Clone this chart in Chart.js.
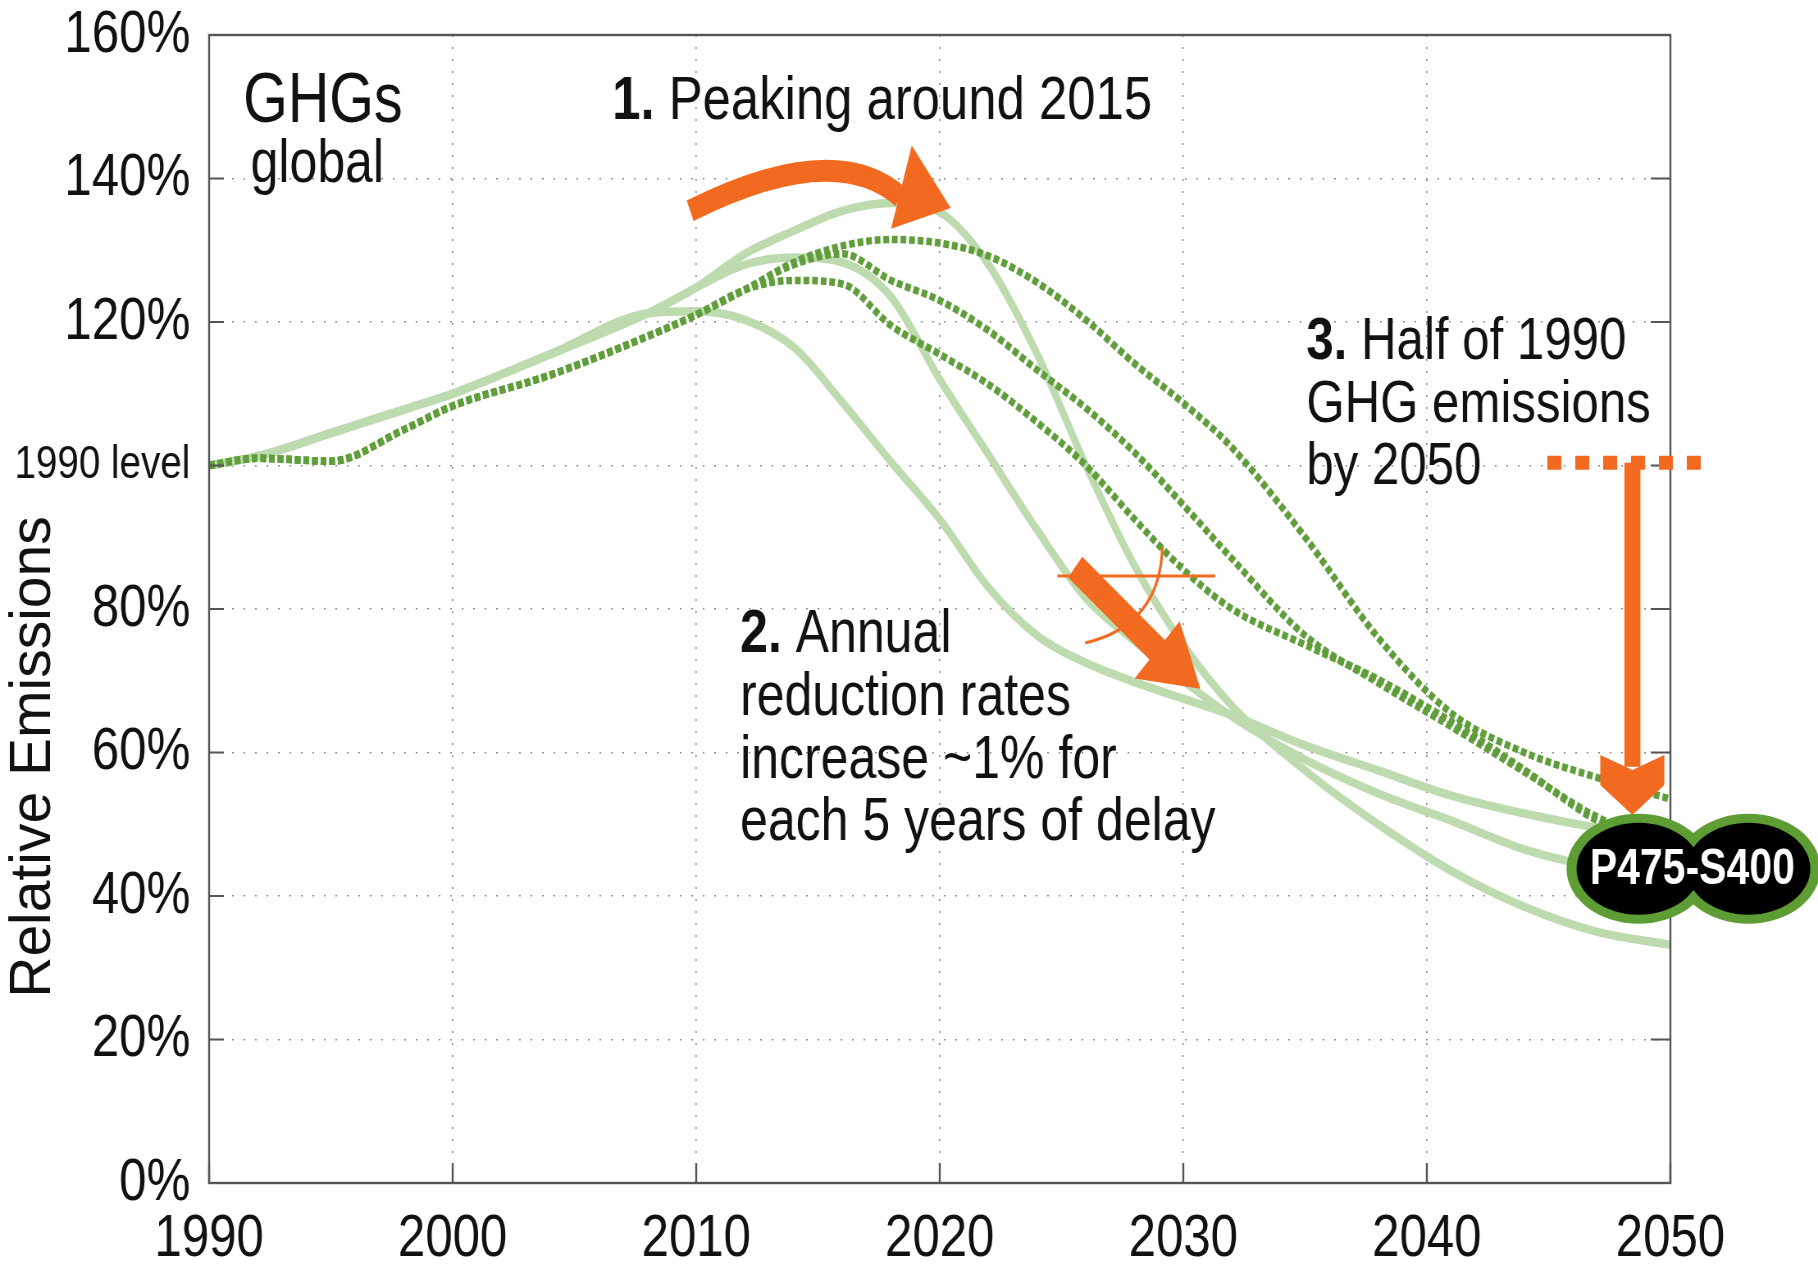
<!DOCTYPE html>
<html>
<head>
<meta charset="utf-8">
<title>GHGs global - relative emissions</title>
<script src="https://cdn.jsdelivr.net/npm/chart.js@4.4.1/dist/chart.umd.min.js"></script>
<style>
  html, body { margin: 0; padding: 0; background: #fff; overflow: hidden; }
  #box { width: 1818px; height: 1264px; }
</style>
</head>
<body>
<div id="box"><canvas id="myChart" height="1264"></canvas></div>
<script>
// sampled years (x axis)
var years = [1990, 1992, 1995, 1998, 2000, 2004, 2008, 2010, 2012, 2014, 2016, 2018, 2020,
             2022, 2024, 2026, 2028, 2030, 2032, 2035, 2038, 2041, 2044, 2047, 2050];

// light solid pathways, % of 1990 emissions
var solidPeak2011 = [100, 101.3, 104.5, 107.8, 110, 115.5, 121.2, 121.5, 120.3, 116.5, 108.8, 100.5, 92.5,
                     83, 76.3, 72.5, 69.8, 67.5, 65.2, 61, 57.5, 54, 51.5, 49.5, 48];
var solidPeak2015 = [100, 101.3, 104.5, 107.8, 110, 115.5, 121.2, 124.8, 128, 129, 128.3, 123.5, 112,
                     101.5, 91, 81.5, 75.5, 70, 65, 59, 54.3, 50.5, 46.5, 44, 42.5];
var solidPeak2019 = [100, 101.3, 104.5, 107.8, 110, 115.5, 121.2, 124.8, 129.5, 132.7, 135.5, 136.6, 135.3,
                     128, 115.5, 100, 86, 75, 66.5, 57.5, 50, 43.5, 38.5, 35, 33.2];

// dotted pathways
var dottedPeak2014 = [100, 101, 100.6, 105, 108.3, 112.6, 118, 121, 124.5, 125.8, 125.3, 119.5, 115.5,
                      111.3, 106, 100, 92.5, 85.5, 80, 75, 70.2, 64.3, 57.6, 50.5, 47];
var dottedPeak2016 = [100, 101, 100.6, 105, 108.3, 112.6, 118, 121, 124.5, 128, 129.5, 125.8, 123,
                      118.8, 113.3, 108, 101.8, 94.5, 87, 76.3, 69.7, 63.6, 57.3, 51, 47];
var dottedPeak2019 = [100, 101, 100.6, 105, 108.3, 112.6, 118, 121, 124.5, 128.3, 130.6, 131.5, 131,
                      129.2, 125.5, 120.3, 114.2, 108.7, 102.5, 90, 76, 65.5, 60, 56.5, 53.5];

var xTicks = [1990, 2000, 2010, 2020, 2030, 2040, 2050];
var yTicks = [0, 20, 40, 60, 80, 100, 120, 140, 160];
var yTickLabels = ['0%', '20%', '40%', '60%', '80%', '1990 level', '120%', '140%', '160%'];

// the figure is drawn wide and squeezed to 1818px, like the narrow original
var K = 0.82;
var W = Math.round(1818 / K);

var lightGreen = '#bedaaf';
var darkGreen = '#5f9e3a';
var orange = '#f26a1f';
var sans = '"Liberation Sans", Arial, sans-serif';

// text notes, anchored in data units (year, %)
var notes = [
  { t: 'GHGs', x: 1991.4, y: 147.9, size: 70 },
  { t: 'global', x: 1991.7, y: 139.5, size: 61 },
  { b: '1.', t: ' Peaking around 2015', x: 2006.55, y: 148.3, size: 62 },
  { b: '2.', t: ' Annual', x: 2011.8, y: 74.0, size: 61 },
  { t: 'reduction rates', x: 2011.8, y: 65.2, size: 61 },
  { t: 'increase ~1% for', x: 2011.8, y: 56.45, size: 61 },
  { t: 'each 5 years of delay', x: 2011.8, y: 47.8, size: 61 },
  { b: '3.', t: ' Half of 1990', x: 2035.05, y: 114.85, size: 60 },
  { t: 'GHG emissions', x: 2035.05, y: 106.05, size: 60 },
  { t: 'by 2050', x: 2035.05, y: 97.4, size: 60 }
];

function pts(vals) {
  return years.map(function (yr, i) { return { x: yr, y: vals[i] }; });
}

function solid(vals) {
  return { data: pts(vals), borderColor: lightGreen, borderWidth: 8.5, order: 1 };
}
function dotted(vals) {
  return { data: pts(vals), borderColor: darkGreen, borderWidth: 7.5, borderDash: [7, 3.5], order: 0 };
}

var overlay = {
  id: 'overlay',
  afterDraw: function (chart) {
    var ctx = chart.ctx, a = chart.chartArea;
    var xs = chart.scales.x, ys = chart.scales.y;
    function px(v) { return xs.getPixelForValue(v); }
    function py(v) { return ys.getPixelForValue(v); }
    function poly(list) {
      ctx.beginPath();
      list.forEach(function (p, i) {
        if (i === 0) ctx.moveTo(px(p[0]), py(p[1])); else ctx.lineTo(px(p[0]), py(p[1]));
      });
      ctx.closePath();
      ctx.fill();
    }

    ctx.save();

    // frame and inward ticks
    ctx.strokeStyle = '#555';
    ctx.lineWidth = 2.4;
    ctx.strokeRect(a.left, a.top, a.right - a.left, a.bottom - a.top);
    ctx.lineWidth = 2;
    ctx.beginPath();
    yTicks.forEach(function (v) {
      ctx.moveTo(a.left, py(v)); ctx.lineTo(a.left + 18, py(v));
      ctx.moveTo(a.right, py(v)); ctx.lineTo(a.right - 24, py(v));
    });
    ctx.stroke();
    ctx.lineWidth = 2.4;
    ctx.beginPath();
    xTicks.forEach(function (v) {
      ctx.moveTo(px(v), a.bottom); ctx.lineTo(px(v), a.bottom - 20);
    });
    ctx.stroke();

    // axis title (rotated, so undo the squeeze on the glyph height)
    ctx.save();
    ctx.translate(34 / K, 757);
    ctx.rotate(-Math.PI / 2);
    ctx.scale(1, 1 / K);
    ctx.fillStyle = '#111';
    ctx.font = '57px ' + sans;
    ctx.textAlign = 'center';
    ctx.textBaseline = 'middle';
    ctx.fillText('Relative Emissions', 0, 0);
    ctx.restore();

    // 1. curved arrow over the peak
    ctx.strokeStyle = orange;
    ctx.fillStyle = orange;
    ctx.lineWidth = 22;
    ctx.lineCap = 'butt';
    ctx.beginPath();
    ctx.moveTo(px(2009.75), py(135.5));
    ctx.quadraticCurveTo(px(2015.7), py(145.6), px(2018.4), py(137.4));
    ctx.stroke();
    poly([[2018.85, 144.6], [2020.45, 135.9], [2018.0, 133.0]]);

    // 2. diagonal arrow, with angle mark
    ctx.lineWidth = 27;
    ctx.beginPath();
    ctx.moveTo(px(2025.56), py(85.85));
    ctx.lineTo(px(2028.97), py(74.15));
    ctx.stroke();
    poly([[2029.85, 78.3], [2030.7, 68.9], [2028.0, 70.3]]);
    ctx.lineWidth = 3.2;
    ctx.beginPath();
    ctx.moveTo(px(2024.83), py(84.6));
    ctx.lineTo(px(2031.31), py(84.6));
    ctx.moveTo(px(2025.97), py(75.26));
    ctx.quadraticCurveTo(px(2029.05), py(77.77), px(2029.14), py(88.64));
    ctx.stroke();

    // 3. 1990-level marker and down arrow
    ctx.lineWidth = 14;
    ctx.setLineDash([17, 17]);
    ctx.beginPath();
    ctx.moveTo(px(2044.95), py(100.4));
    ctx.lineTo(px(2051.31), py(100.4));
    ctx.stroke();
    ctx.setLineDash([]);
    ctx.lineWidth = 16 / K;
    ctx.beginPath();
    ctx.moveTo(px(2048.44), py(100.4));
    ctx.lineTo(px(2048.44), py(58));
    ctx.stroke();
    poly([[2047.12, 59.65], [2048.44, 57.56], [2049.75, 59.65], [2049.75, 55.47], [2048.44, 51.29], [2047.12, 55.47]]);

    // scenario badge: two joined lobes
    var cy = py(43.8), c1 = px(2048.69), c2 = px(2053.2);
    ctx.fillStyle = '#5e9c34';
    ctx.beginPath();
    ctx.ellipse(c1, cy, 72 / K, 55, 0, 0, Math.PI * 2);
    ctx.ellipse(c2, cy, 72 / K, 55, 0, 0, Math.PI * 2);
    ctx.fill();
    ctx.fillStyle = '#000';
    ctx.beginPath();
    ctx.ellipse(c1, cy, 62 / K, 46, 0, 0, Math.PI * 2);
    ctx.fill();
    ctx.beginPath();
    ctx.ellipse(c2, cy, 62 / K, 46, 0, 0, Math.PI * 2);
    ctx.fill();
    ctx.fillStyle = '#fff';
    ctx.font = 'bold 50px ' + sans;
    ctx.textAlign = 'center';
    ctx.textBaseline = 'middle';
    ctx.fillText('P475-S400', px(2050.9), cy + 1);

    // notes
    ctx.fillStyle = '#111';
    ctx.textAlign = 'left';
    ctx.textBaseline = 'alphabetic';
    notes.forEach(function (n) {
      var x = px(n.x), y = py(n.y);
      if (n.b) {
        ctx.font = 'bold ' + n.size + 'px ' + sans;
        ctx.fillText(n.b, x, y);
        x += ctx.measureText(n.b).width;
      }
      ctx.font = n.size + 'px ' + sans;
      ctx.fillText(n.t, x, y);
    });

    ctx.restore();
  }
};

var canvas = document.getElementById('myChart');
canvas.width = W;
canvas.style.width = '1818px';
canvas.style.height = '1264px';

var chart = new Chart(canvas.getContext('2d'), {
  type: 'line',
  data: {
    datasets: [
      dotted(dottedPeak2019), dotted(dottedPeak2016), dotted(dottedPeak2014),
      solid(solidPeak2011), solid(solidPeak2015), solid(solidPeak2019)
    ]
  },
  options: {
    responsive: false,
    animation: false,
    devicePixelRatio: 1,
    layout: { padding: { top: 35, right: W - Math.round(1670 / K), left: 0, bottom: 0 } },
    elements: {
      point: { radius: 0 },
      line: { fill: false, cubicInterpolationMode: 'monotone', borderCapStyle: 'butt', borderJoinStyle: 'round' }
    },
    plugins: { legend: { display: false }, tooltip: { enabled: false } },
    scales: {
      x: {
        type: 'linear', min: 1990, max: 2050,
        afterBuildTicks: function (s) { s.ticks = xTicks.map(function (v) { return { value: v }; }); },
        afterFit: function (s) { s.height = 81; s.paddingLeft = 0; s.paddingRight = 0; },
        ticks: {
          callback: function (v) { return String(v); },
          font: { family: sans, size: 60 }, color: '#111', padding: 20,
          maxRotation: 0, autoSkip: false
        },
        grid: { color: '#888', lineWidth: 1.6, drawTicks: false },
        border: { display: false, dash: [2, 10] }
      },
      y: {
        type: 'linear', min: 0, max: 160,
        afterBuildTicks: function (s) { s.ticks = yTicks.map(function (v) { return { value: v }; }); },
        afterFit: function (s) { s.width = Math.round(209 / K); s.paddingTop = 0; s.paddingBottom = 0; },
        ticks: {
          callback: function (v, i) { return yTickLabels[i]; },
          font: function (c) {
            var small = c.tick && c.tick.value === 100;
            return { family: sans, size: small ? 47 : 60, lineHeight: 1 };
          },
          color: '#111', padding: 23, autoSkip: false
        },
        grid: { color: '#888', lineWidth: 1.5, drawTicks: false },
        border: { display: false, dash: [2, 12] }
      }
    }
  },
  plugins: [overlay]
});
</script>
</body>
</html>
